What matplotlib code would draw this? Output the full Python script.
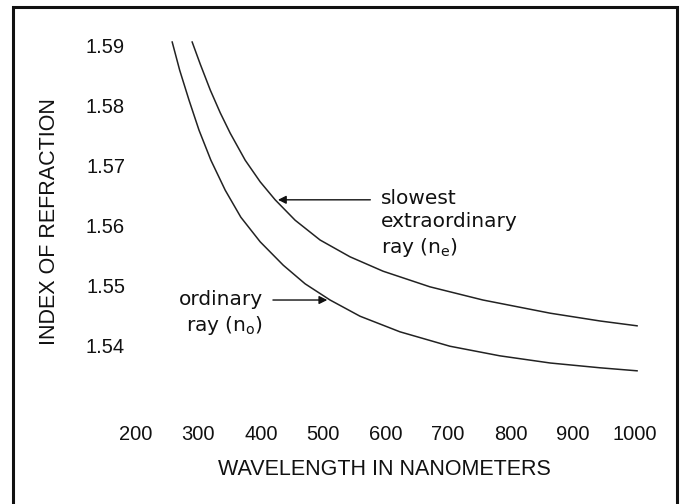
import matplotlib.pyplot as plt
from matplotlib.patches import Rectangle

# values
wl_ordinary = [258, 270, 285, 301, 320, 343, 368, 399, 436, 471, 511, 559,
               623, 703, 783, 864, 944, 1003]
n_ordinary = [1.5905, 1.5858, 1.5808, 1.5758, 1.5708, 1.5658, 1.5613, 1.5572,
              1.5533, 1.5502, 1.5475, 1.5448, 1.5422, 1.5398, 1.5382, 1.5370,
              1.5362, 1.5357]
wl_extra = [290, 303, 319, 335, 351, 375, 399, 423, 455, 495, 543, 596,
            671, 756, 864, 944, 1003]
n_extra = [1.5905, 1.5868, 1.5825, 1.5787, 1.5753, 1.5708, 1.5672, 1.5642,
           1.5608, 1.5575, 1.5547, 1.5523, 1.5497, 1.5475, 1.5453, 1.5440,
           1.5432]
x_ticks = [200, 300, 400, 500, 600, 700, 800, 900, 1000]
y_ticks = [1.54, 1.55, 1.56, 1.57, 1.58, 1.59]

LABEL_FONT = "Liberation Sans"
NOTE_FONT = "DejaVu Sans"
plt.rcParams["mathtext.fontset"] = "dejavusans"

fig = plt.figure(figsize=(6.83, 5.04), dpi=100)
ax = fig.add_axes([0.1973, 0.1964, 0.7784, 0.7738])

ax.plot(wl_ordinary, n_ordinary, color="#222222", lw=1.1)
ax.plot(wl_extra, n_extra, color="#222222", lw=1.1)

ax.set_xlim(198, 1050)
ax.set_ylim(1.53, 1.595)
for side in ax.spines.values():
    side.set_visible(False)
ax.set_xticks(x_ticks)
ax.set_xticklabels([str(v) for v in x_ticks], fontfamily=LABEL_FONT, fontsize=14.5)
ax.set_yticks(y_ticks)
ax.set_yticklabels([f"{v:.2f}" for v in y_ticks], fontfamily=LABEL_FONT, fontsize=14.5)
ax.tick_params(axis="x", length=0, pad=14.5, colors="#111111")
ax.tick_params(axis="y", length=0, pad=7, colors="#111111")

fig.text(0.072, 0.5595, "INDEX OF REFRACTION", rotation=90, ha="center", va="center",
         fontfamily=LABEL_FONT, fontsize=15.5, color="#111111")
fig.text(0.563, 0.068, "WAVELENGTH IN NANOMETERS", ha="center", va="center",
         fontfamily=LABEL_FONT, fontsize=15.5, color="#111111")

arrow = dict(arrowstyle="-|>", color="#111111", lw=1.0, mutation_scale=12)
ax.annotate("", xy=(wl_extra[7], n_extra[7]), xytext=(580, n_extra[7]), arrowprops=arrow)
ax.annotate("", xy=(wl_ordinary[10], n_ordinary[10]), xytext=(415, n_ordinary[10]),
            arrowprops=arrow)
ax.text(592, 1.5602, "slowest\nextraordinary\nray (n$_\\mathrm{e}$)", ha="left", va="center",
        fontfamily=NOTE_FONT, fontsize=14.5, linespacing=1.3, color="#111111")
ax.text(403, 1.5453, "ordinary\nray (n$_\\mathrm{o}$)", ha="right", va="center",
        multialignment="right", fontfamily=NOTE_FONT, fontsize=14.5, linespacing=1.3,
        color="#111111")

# frame around the whole figure
fig.patches.append(Rectangle((0.019, -0.05), 0.9722, 1.0361, transform=fig.transFigure,
                             fill=False, lw=2.2, edgecolor="#111111"))

fig.savefig("out.png", dpi=100)
